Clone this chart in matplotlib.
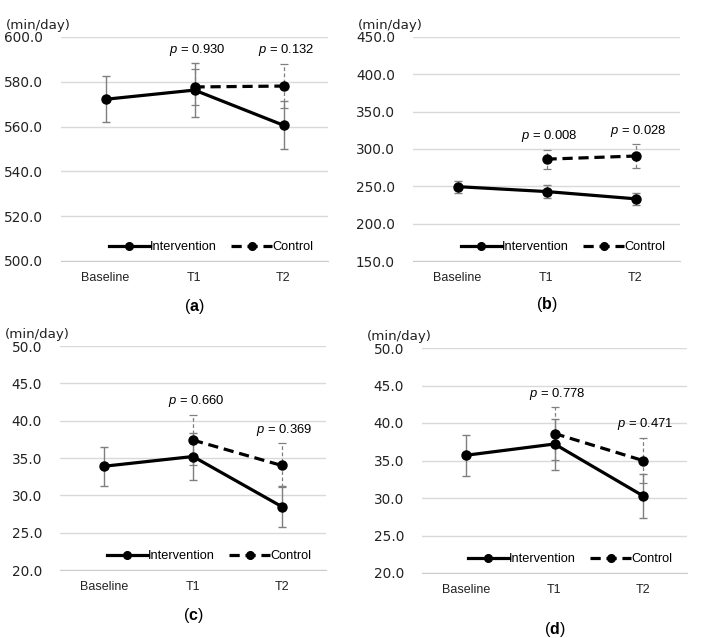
import numpy as np
import matplotlib.pyplot as plt
from matplotlib.ticker import FormatStrFormatter, MultipleLocator

categories = ["Baseline", "T1", "T2"]

# panel (a)
a_int_mean = [572.2, 576.3, 560.6]
a_int_err = [10.2, 11.9, 10.8]
a_ctrl_mean = [np.nan, 577.7, 578.1]
a_ctrl_err = [np.nan, 8.0, 9.9]
a_pvalues = ["0.930", "0.132"]

# panel (b)
b_int_mean = [249.6, 243.0, 233.3]
b_int_err = [8.0, 9.2, 7.8]
b_ctrl_mean = [np.nan, 286.4, 290.6]
b_ctrl_err = [np.nan, 12.8, 15.8]
b_pvalues = ["0.008", "0.028"]

# panel (c)
c_int_mean = [33.9, 35.2, 28.5]
c_int_err = [2.6, 3.1, 2.7]
c_ctrl_mean = [np.nan, 37.4, 34.0]
c_ctrl_err = [np.nan, 3.4, 2.95]
c_pvalues = ["0.660", "0.369"]

# panel (d)
d_int_mean = [35.7, 37.2, 30.3]
d_int_err = [2.75, 3.4, 2.95]
d_ctrl_mean = [np.nan, 38.6, 35.0]
d_ctrl_err = [np.nan, 3.5, 3.0]
d_pvalues = ["0.778", "0.471"]

plt.rcParams.update({
    "font.family": ["Liberation Sans", "DejaVu Sans"],
    "mathtext.fontset": "custom",
    "mathtext.rm": "Liberation Sans",
    "mathtext.it": "Liberation Sans:italic",
    "mathtext.bf": "Liberation Sans:bold",
})

fig = plt.figure(figsize=(7.08, 6.38), dpi=100)

# axes boxes in pixels: left, right, top, bottom
W, H = 708, 638
boxes = {
    "a": (61, 328, 37, 261),
    "b": (413, 680, 37, 261),
    "c": (60, 326, 346, 570),
    "d": (422, 687, 348, 573),
}
label_offsets = {"a": 33, "b": 31, "c": 33, "d": 41}

panels = [
    ("a", a_int_mean, a_int_err, a_ctrl_mean, a_ctrl_err, a_pvalues, (500, 600), 20),
    ("b", b_int_mean, b_int_err, b_ctrl_mean, b_ctrl_err, b_pvalues, (150, 450), 50),
    ("c", c_int_mean, c_int_err, c_ctrl_mean, c_ctrl_err, c_pvalues, (20, 50), 5),
    ("d", d_int_mean, d_int_err, d_ctrl_mean, d_ctrl_err, d_pvalues, (20, 50), 5),
]

grey = "#7f7f7f"
x = np.arange(len(categories))

for key, int_mean, int_err, ctrl_mean, ctrl_err, pvalues, ylim, step in panels:
    left, right, top, bottom = boxes[key]
    ax = fig.add_axes([left / W, 1 - bottom / H, (right - left) / W, (bottom - top) / H])

    ax.errorbar(x, int_mean, yerr=int_err, fmt="none", ecolor=grey,
                elinewidth=1.0, capsize=2.6, capthick=1.0, zorder=2)
    eb = ax.errorbar(x, ctrl_mean, yerr=ctrl_err, fmt="none", ecolor=grey,
                     elinewidth=0.9, capsize=2.6, capthick=0.9, zorder=2)
    eb[2][0].set_linestyle((0, (3, 2)))

    ax.plot(x, int_mean, "-", color="black", lw=2.3, marker="o", ms=6.5,
            label="Intervention", zorder=3)
    ax.plot(x, ctrl_mean, color="black", lw=2.3, marker="o", ms=6.5,
            dashes=(3.2, 1.8), label="Control", zorder=3)

    # p-values above the higher error bar at T1 and T2
    for i, p in zip([1, 2], pvalues):
        top_val = max(int_mean[i] + int_err[i], ctrl_mean[i] + ctrl_err[i])
        ax.annotate(f"$p$ = {p}", (x[i], top_val), xytext=(2, 4),
                    textcoords="offset points", ha="center", va="bottom",
                    fontsize=9.4)

    ax.set_xlim(-0.5, 2.5)
    ax.set_ylim(*ylim)
    ax.yaxis.set_major_locator(MultipleLocator(step))
    ax.yaxis.set_major_formatter(FormatStrFormatter("%.1f"))
    ax.set_xticks(x)
    ax.set_xticklabels(categories, fontsize=9.0, color="#222222")
    ax.grid(axis="y", color="#d9d9d9", lw=1.0)
    ax.set_axisbelow(True)
    for side in ["left", "right", "top"]:
        ax.spines[side].set_visible(False)
    ax.spines["bottom"].set_color("#cccccc")
    ax.tick_params(axis="both", length=0)
    ax.tick_params(axis="y", pad=13)
    ax.tick_params(axis="x", pad=8)
    for lbl in ax.get_yticklabels():
        lbl.set_fontfamily("DejaVu Sans")
        lbl.set_fontsize(9.8)
        lbl.set_color("#222222")

    ax.annotate("(min/day)", (0, 1), xycoords="axes fraction", xytext=(-40, 8.5),
                textcoords="offset points", ha="left", va="center",
                fontsize=9.6, family="DejaVu Sans", color="#222222")

    leg = ax.legend(loc="lower right", bbox_to_anchor=(0.975, 0.0), ncol=2,
                    frameon=False, fontsize=9.2, handlelength=3.2,
                    handletextpad=0.05, columnspacing=1.1, numpoints=1,
                    borderaxespad=0.2)
    for handle in leg.legend_handles:
        handle.set_markersize(5.5)

    ax.annotate(rf"($\mathbf{{{key}}}$)", (0.5, 0), xycoords="axes fraction",
                xytext=(0, -label_offsets[key]), textcoords="offset points",
                ha="center", va="center", fontsize=11.5)

fig.savefig("out.png", dpi=100)
